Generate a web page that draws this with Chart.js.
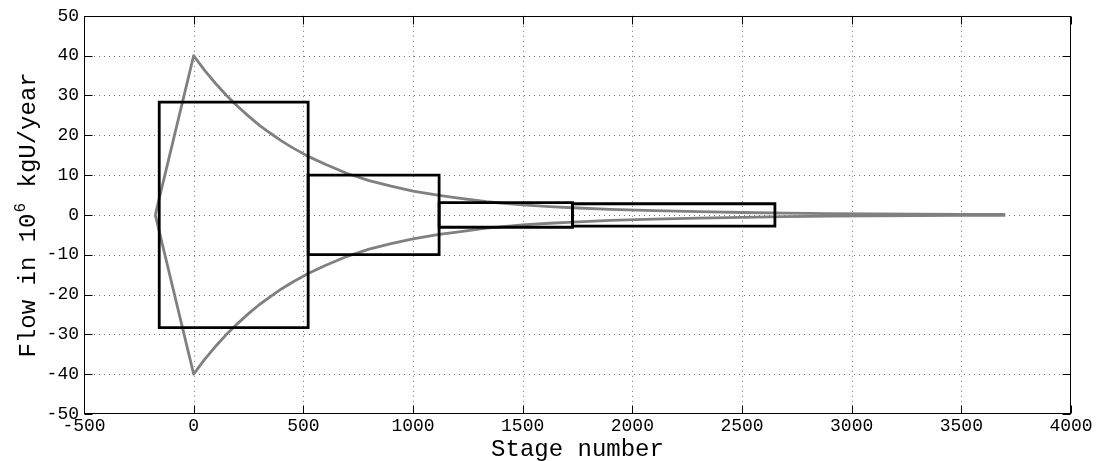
<!DOCTYPE html>
<html>
<head>
<meta charset="utf-8">
<script src="https://cdn.jsdelivr.net/npm/chart.js@4.4.1/dist/chart.umd.min.js"></script>
<style>
  html, body { margin: 0; padding: 0; background: #ffffff; }
  canvas { display: block; }
</style>
</head>
<body>
<canvas id="c" width="1096" height="461"></canvas>
<script>
// ---- data ----
const xTickValues = [-500, 0, 500, 1000, 1500, 2000, 2500, 3000, 3500, 4000];
const yTickValues = [-50, -40, -30, -20, -10, 0, 10, 20, 30, 40, 50];

// gray flow envelope (stage number vs flow)
const curveStages = [-175, 0, 50, 100, 150, 200, 250, 300, 350, 400, 450, 522, 600, 700, 800, 900, 1000, 1119, 1200, 1335, 1500, 1624, 1727, 1900, 2100, 2300, 2500, 2700, 2900, 3100, 3300, 3500, 3700];
const upperFlow   = [0, 40, 36.3, 33.0, 30.0, 27.3, 24.8, 22.5, 20.5, 18.6, 16.9, 14.7, 12.7, 10.4, 8.6, 7.2, 6.0, 4.9, 4.3, 3.3, 2.5, 2.1, 1.8, 1.4, 1.05, 0.8, 0.6, 0.45, 0.33, 0.25, 0.18, 0.13, 0.1];
const lowerFlow   = [0, -40, -36.3, -33.0, -30.0, -27.3, -24.8, -22.5, -20.5, -18.6, -16.9, -14.7, -12.7, -10.4, -8.6, -7.2, -6.0, -4.9, -4.3, -3.3, -2.5, -2.1, -1.8, -1.4, -1.05, -0.8, -0.6, -0.45, -0.33, -0.25, -0.18, -0.13, -0.1];

// black cascade sections: edges in stage number and half-height of each box
const sectionEdges = [-157, 522, 1119, 1727, 2650];
const sectionHalfFlow = [28.3, 10.0, 3.1, 2.8];

// ---- build datasets ----
function toPoints(xs, ys) { return xs.map((x, i) => ({ x: x, y: ys[i] })); }

const datasets = [];
for (let i = 0; i < sectionHalfFlow.length; i++) {
  const x0 = sectionEdges[i], x1 = sectionEdges[i + 1], h = sectionHalfFlow[i];
  datasets.push({
    label: 'section ' + (i + 1),
    data: [{x: x0, y: -h}, {x: x0, y: h}, {x: x1, y: h}, {x: x1, y: -h}, {x: x0, y: -h}],
    showLine: true, borderColor: '#000000', borderWidth: 2.8,
    pointRadius: 0, tension: 0, fill: false, order: 0,
    borderJoinStyle: 'miter', borderCapStyle: 'square'
  });
}
datasets.push({
  label: 'upper', data: toPoints(curveStages, upperFlow),
  showLine: true, borderColor: '#808080', borderWidth: 2.8,
  pointRadius: 0, tension: 0, fill: false, order: 1, borderJoinStyle: 'round'
});
datasets.push({
  label: 'lower', data: toPoints(curveStages, lowerFlow),
  showLine: true, borderColor: '#808080', borderWidth: 2.8,
  pointRadius: 0, tension: 0, fill: false, order: 1, borderJoinStyle: 'round'
});

const MONO = "'Liberation Mono', 'DejaVu Sans Mono', monospace";

const framePlugin = {
  id: 'frame',
  beforeDatasetsDraw(chart) {
    const {ctx, chartArea: a, scales: {x, y}} = chart;
    ctx.save();
    ctx.strokeStyle = '#6e6e6e';
    ctx.lineWidth = 1;
    ctx.setLineDash([1, 4]);
    x.ticks.forEach(t => {
      if (t.value <= x.min || t.value >= x.max) return;
      const px = Math.round(x.getPixelForValue(t.value)) + 0.5;
      ctx.beginPath(); ctx.moveTo(px, a.top); ctx.lineTo(px, a.bottom); ctx.stroke();
    });
    y.ticks.forEach(t => {
      if (t.value <= y.min || t.value >= y.max) return;
      const py = Math.round(y.getPixelForValue(t.value)) + 0.5;
      ctx.beginPath(); ctx.moveTo(a.left, py); ctx.lineTo(a.right, py); ctx.stroke();
    });
    ctx.restore();
  },
  afterDatasetsDraw(chart) {
    const {ctx, chartArea: a, scales: {x, y}} = chart;
    ctx.save();
    ctx.setLineDash([]);
    ctx.strokeStyle = '#000000';
    ctx.lineWidth = 1;
    const L = Math.round(a.left) + 0.5, R = Math.round(a.right) - 0.5;
    const T = Math.round(a.top) + 0.5, B = Math.round(a.bottom) - 0.5;
    ctx.strokeRect(L, T, R - L, B - T);
    const tl = 8;
    ctx.beginPath();
    x.ticks.forEach(t => {
      const px = Math.round(x.getPixelForValue(t.value)) + 0.5;
      ctx.moveTo(px, B); ctx.lineTo(px, B - tl);
      ctx.moveTo(px, T); ctx.lineTo(px, T + tl);
    });
    y.ticks.forEach(t => {
      const py = Math.round(y.getPixelForValue(t.value)) + 0.5;
      ctx.moveTo(L, py); ctx.lineTo(L + tl, py);
      ctx.moveTo(R, py); ctx.lineTo(R - tl, py);
    });
    ctx.stroke();

    // axis titles
    ctx.fillStyle = '#000000';
    ctx.textBaseline = 'alphabetic';
    ctx.font = '24px ' + MONO;
    ctx.textAlign = 'center';
    ctx.fillText('Stage number', (a.left + a.right) / 2, 456);

    // y title with superscript, rotated
    const big = '24px ' + MONO, small = '16px ' + MONO;
    const p1 = 'Flow in 10', p2 = '6', p3 = ' kgU/year';
    ctx.font = big; const w1 = ctx.measureText(p1).width; const w3 = ctx.measureText(p3).width;
    ctx.font = small; const w2 = ctx.measureText(p2).width + 2;
    const total = w1 + w2 + w3;
    ctx.translate(35, (a.top + a.bottom) / 2);
    ctx.rotate(-Math.PI / 2);
    ctx.textAlign = 'left';
    let sx = -total / 2;
    ctx.font = big; ctx.fillText(p1, sx, 0); sx += w1 + 1;
    ctx.font = small; ctx.fillText(p2, sx, -10); sx += w2 - 1;
    ctx.font = big; ctx.fillText(p3, sx, 0);
    ctx.restore();
  }
};

new Chart(document.getElementById('c'), {
  type: 'scatter',
  data: { datasets: datasets },
  options: {
    responsive: false,
    animation: false,
    events: [],
    layout: { padding: { top: 13, right: 25, bottom: 0, left: 0 } },
    plugins: { legend: { display: false }, tooltip: { enabled: false }, title: { display: false } },
    scales: {
      x: {
        type: 'linear', min: -500, max: 4000,
        afterBuildTicks: s => { s.ticks = xTickValues.map(v => ({ value: v })); },
        afterFit: s => { s.height = 47; },
        grid: { display: false, drawTicks: false },
        border: { display: false },
        ticks: {
          color: '#000000', padding: 1, maxRotation: 0, autoSkip: false,
          font: { family: MONO, size: 18 },
          callback: v => String(v)
        }
      },
      y: {
        type: 'linear', min: -50, max: 50,
        afterBuildTicks: s => { s.ticks = yTickValues.map(v => ({ value: v })); },
        afterFit: s => { s.width = 84; },
        grid: { display: false, drawTicks: false },
        border: { display: false },
        ticks: {
          color: '#000000', padding: 5, autoSkip: false,
          font: { family: MONO, size: 18 },
          callback: v => String(v)
        }
      }
    }
  },
  plugins: [framePlugin]
});
</script>
</body>
</html>
